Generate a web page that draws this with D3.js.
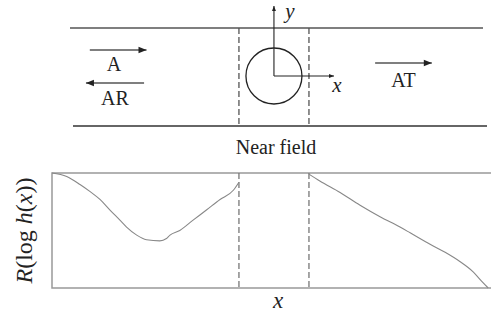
<!DOCTYPE html>
<html>
<head>
<meta charset="utf-8">
<script src="https://cdn.jsdelivr.net/npm/d3@7"></script>
<style>
  body { margin: 0; background: #fff; }
  svg { display: block; }
  text { font-family: 'Liberation Serif', 'DejaVu Serif', serif; fill: #222; }
</style>
</head>
<body>
<svg id="chart" width="491" height="323"></svg>
<script>
// near-field bounds and scatterer, in x units (centre of the circle = 0)
const nearField = [-1, 1];
const circleRadius = 0.8;

// R(log h(x)) left of the near field (incident + reflected)
const leftX = [-6.34, -5.92, -5.54, -5.26, -4.97, -4.69, -4.40, -4.21, -3.92, -3.64,
  -3.26, -3.07, -2.97, -2.69, -2.31, -1.92, -1.54, -1.16, -1.00];
const leftY = [1.00, 0.97, 0.90, 0.84, 0.77, 0.68, 0.59, 0.53, 0.46, 0.42,
  0.41, 0.43, 0.46, 0.50, 0.59, 0.68, 0.77, 0.85, 0.92];

// R(log h(x)) right of the near field (transmitted)
const rightX = [1.00, 1.31, 1.89, 2.46, 3.03, 3.60, 3.89, 4.46, 4.89, 5.31, 5.69, 5.93, 6.12];
const rightY = [0.99, 0.93, 0.83, 0.72, 0.62, 0.53, 0.48, 0.38, 0.31, 0.23, 0.14, 0.06, 0.00];

// wave arrows: [from, to] in x units
const arrows = [
  { name: 'A', from: -5.26, to: -3.64, y: 50, lx: -4.57, ly: 71 },
  { name: 'AR', from: -3.71, to: -5.37, y: 83, lx: -4.54, ly: 105 },
  { name: 'AT', from: 2.89, to: 4.51, y: 63, lx: 3.7, ly: 87 },
];

const svg = d3.select('#chart');

const x = d3.scaleLinear().domain([-6.34, 6.2]).range([52, 491]);
const y = d3.scaleLinear().domain([0, 1]).range([288, 173]);

const defs = svg.append('defs');
defs.append('marker')
  .attr('id', 'head')
  .attr('viewBox', '0 -5 10 10')
  .attr('refX', 10)
  .attr('refY', 0)
  .attr('orient', 'auto')
  .attr('markerUnits', 'userSpaceOnUse')
  .attr('markerWidth', 11)
  .attr('markerHeight', 8)
  .append('path')
  .attr('d', 'M0,-4 L10,0 L0,4 Z')
  .attr('fill', '#222');
defs.append('marker')
  .attr('id', 'thin')
  .attr('viewBox', '0 -5 10 10')
  .attr('refX', 10)
  .attr('refY', 0)
  .attr('orient', 'auto')
  .attr('markerUnits', 'userSpaceOnUse')
  .attr('markerWidth', 5)
  .attr('markerHeight', 5)
  .append('path')
  .attr('d', 'M0,-4 L10,0 L0,4 Z')
  .attr('fill', '#222');

// ---- top schematic ----
const scheme = svg.append('g');
const pipeTop = 28;
const pipeBottom = 126;
const cy = 76;

scheme.append('line')
  .attr('x1', 70).attr('x2', 483).attr('y1', pipeTop).attr('y2', pipeTop)
  .attr('stroke', '#555').attr('stroke-width', 1.5);
scheme.append('line')
  .attr('x1', 73).attr('x2', 487).attr('y1', pipeBottom).attr('y2', pipeBottom)
  .attr('stroke', '#333').attr('stroke-width', 1.5);

scheme.selectAll('.nf')
  .data(nearField)
  .enter()
  .append('line')
  .attr('class', 'nf')
  .attr('x1', d => x(d)).attr('x2', d => x(d))
  .attr('y1', pipeTop).attr('y2', pipeBottom)
  .attr('stroke', '#555').attr('stroke-width', 1.3)
  .attr('stroke-dasharray', '6,3');

scheme.append('circle')
  .attr('cx', x(0)).attr('cy', cy)
  .attr('r', x(circleRadius) - x(0))
  .attr('fill', 'none').attr('stroke', '#222').attr('stroke-width', 1.3);

// local axes
scheme.append('line')
  .attr('x1', x(0)).attr('x2', x(0)).attr('y1', cy).attr('y2', 6)
  .attr('stroke', '#222').attr('stroke-width', 1.1)
  .attr('marker-end', 'url(#thin)');
scheme.append('line')
  .attr('x1', x(0)).attr('x2', 334).attr('y1', cy).attr('y2', cy)
  .attr('stroke', '#222').attr('stroke-width', 1.1)
  .attr('marker-end', 'url(#thin)');
scheme.append('text')
  .attr('x', 290).attr('y', 18)
  .attr('text-anchor', 'middle')
  .style('font-size', '21px').style('font-style', 'italic')
  .text('y');
scheme.append('text')
  .attr('x', 337).attr('y', 92)
  .attr('text-anchor', 'middle')
  .style('font-size', '21px').style('font-style', 'italic')
  .text('x');

scheme.selectAll('.wave')
  .data(arrows)
  .enter()
  .append('line')
  .attr('class', 'wave')
  .attr('x1', d => x(d.from)).attr('x2', d => x(d.to))
  .attr('y1', d => d.y).attr('y2', d => d.y)
  .attr('stroke', '#555').attr('stroke-width', 1.6)
  .attr('marker-end', 'url(#head)');

scheme.selectAll('.wavelabel')
  .data(arrows)
  .enter()
  .append('text')
  .attr('class', 'wavelabel')
  .attr('x', d => x(d.lx)).attr('y', d => d.ly)
  .attr('text-anchor', 'middle')
  .style('font-size', '20px')
  .text(d => d.name);

scheme.append('text')
  .attr('x', 276).attr('y', 154)
  .attr('text-anchor', 'middle')
  .style('font-size', '20px')
  .text('Near field');

// ---- bottom chart ----
const chart = svg.append('g');
const boxStroke = '#999';

chart.append('path')
  .attr('d', `M${x.range()[1]},${y(1)} H${x.range()[0]} V${y(0)} H${x.range()[1]}`)
  .attr('fill', 'none').attr('stroke', boxStroke).attr('stroke-width', 1.5);

chart.selectAll('.nf2')
  .data(nearField)
  .enter()
  .append('line')
  .attr('class', 'nf2')
  .attr('x1', d => x(d)).attr('x2', d => x(d))
  .attr('y1', y(1)).attr('y2', y(0))
  .attr('stroke', '#777').attr('stroke-width', 1.3)
  .attr('stroke-dasharray', '6,3');

const line = d3.line()
  .x(d => x(d[0]))
  .y(d => y(d[1]))
  .curve(d3.curveMonotoneX);

[[leftX, leftY], [rightX, rightY]].forEach(([xs, ys]) => {
  chart.append('path')
    .datum(xs.map((v, i) => [v, ys[i]]))
    .attr('d', line)
    .attr('fill', 'none')
    .attr('stroke', '#888')
    .attr('stroke-width', 1.1);
});

const yLabel = chart.append('text')
  .attr('transform', `translate(32,${(y(0) + y(1)) / 2}) rotate(-90)`)
  .attr('text-anchor', 'middle')
  .style('font-size', '24px');
yLabel.append('tspan').style('font-style', 'italic').text('R');
yLabel.append('tspan').text('(log ');
yLabel.append('tspan').style('font-style', 'italic').text('h');
yLabel.append('tspan').text('(');
yLabel.append('tspan').style('font-style', 'italic').text('x');
yLabel.append('tspan').text('))');

chart.append('text')
  .attr('x', 278).attr('y', 308)
  .attr('text-anchor', 'middle')
  .style('font-size', '23px').style('font-style', 'italic')
  .text('x');
</script>
</body>
</html>
